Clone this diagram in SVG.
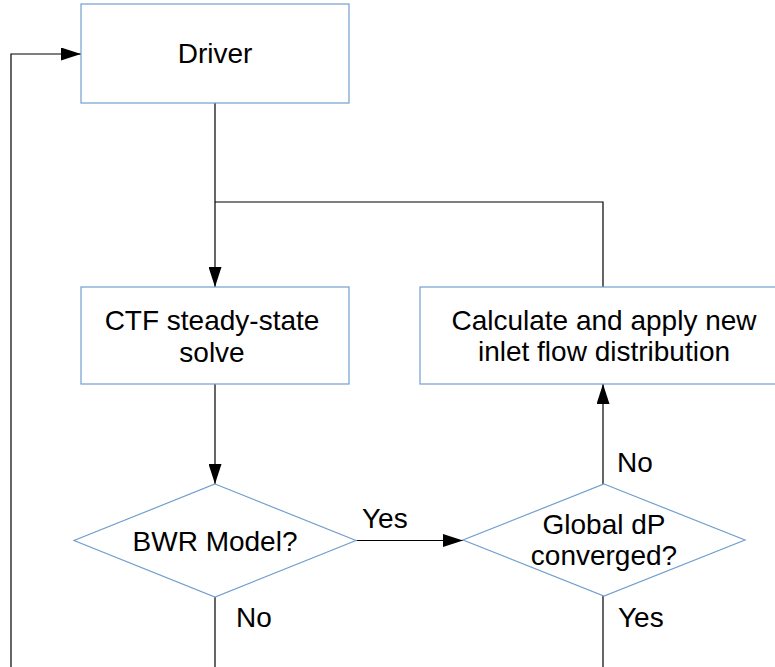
<svg xmlns="http://www.w3.org/2000/svg" width="775" height="667" viewBox="0 0 775 667">
<style>
.n{fill:#ffffff;stroke:#729fcf;stroke-width:1.2}
.c{fill:none;stroke:#000;stroke-width:1.2}
text{font-family:"Liberation Sans",Arial,sans-serif;font-size:28px;fill:#000;text-anchor:middle}
.l{text-anchor:start}
</style>
<defs>
<marker id="ah" markerWidth="20" markerHeight="13" refX="20" refY="6.5" orient="auto" markerUnits="userSpaceOnUse">
<path d="M0,0 L20,6.5 L0,13 Z" fill="#000"/>
</marker>
</defs>
<rect width="775" height="667" fill="#ffffff"/>
<g id="connectors">
<path class="c" d="M11,667 V54 H81" marker-end="url(#ah)"/>
<path class="c" d="M215,103 V287" marker-end="url(#ah)"/>
<path class="c" d="M603,287 V202 H215"/>
<path class="c" d="M215,384 V484" marker-end="url(#ah)"/>
<path class="c" d="M356,540.5 H463" marker-end="url(#ah)"/>
<path class="c" d="M603,484 V384" marker-end="url(#ah)"/>
<path class="c" d="M215,597 V667"/>
<path class="c" d="M603,596 V667"/>
<text class="l" x="362" y="528">Yes</text>
<text class="l" x="617" y="472">No</text>
<text class="l" x="236" y="627">No</text>
<text class="l" x="618" y="627">Yes</text>
</g>
<g id="driver">
<rect class="n" x="81" y="4" width="268" height="99"/>
<text x="215" y="63">Driver</text>
</g>
<g id="ctf">
<rect class="n" x="81" y="287" width="268" height="97"/>
<text x="212" y="330">CTF steady-state</text>
<text x="212" y="362">solve</text>
</g>
<g id="calc">
<rect class="n" x="420" y="287" width="370" height="97"/>
<text x="604" y="330">Calculate and apply new</text>
<text x="604" y="361">inlet flow distribution</text>
</g>
<g id="bwr">
<polygon class="n" points="215,484 356,540.5 215,597 74,540.5"/>
<text x="215" y="551">BWR Model?</text>
</g>
<g id="global">
<polygon class="n" points="604,484 745,540 604,596 463,540"/>
<text x="604" y="534">Global dP</text>
<text x="604" y="565">converged?</text>
</g>
</svg>
